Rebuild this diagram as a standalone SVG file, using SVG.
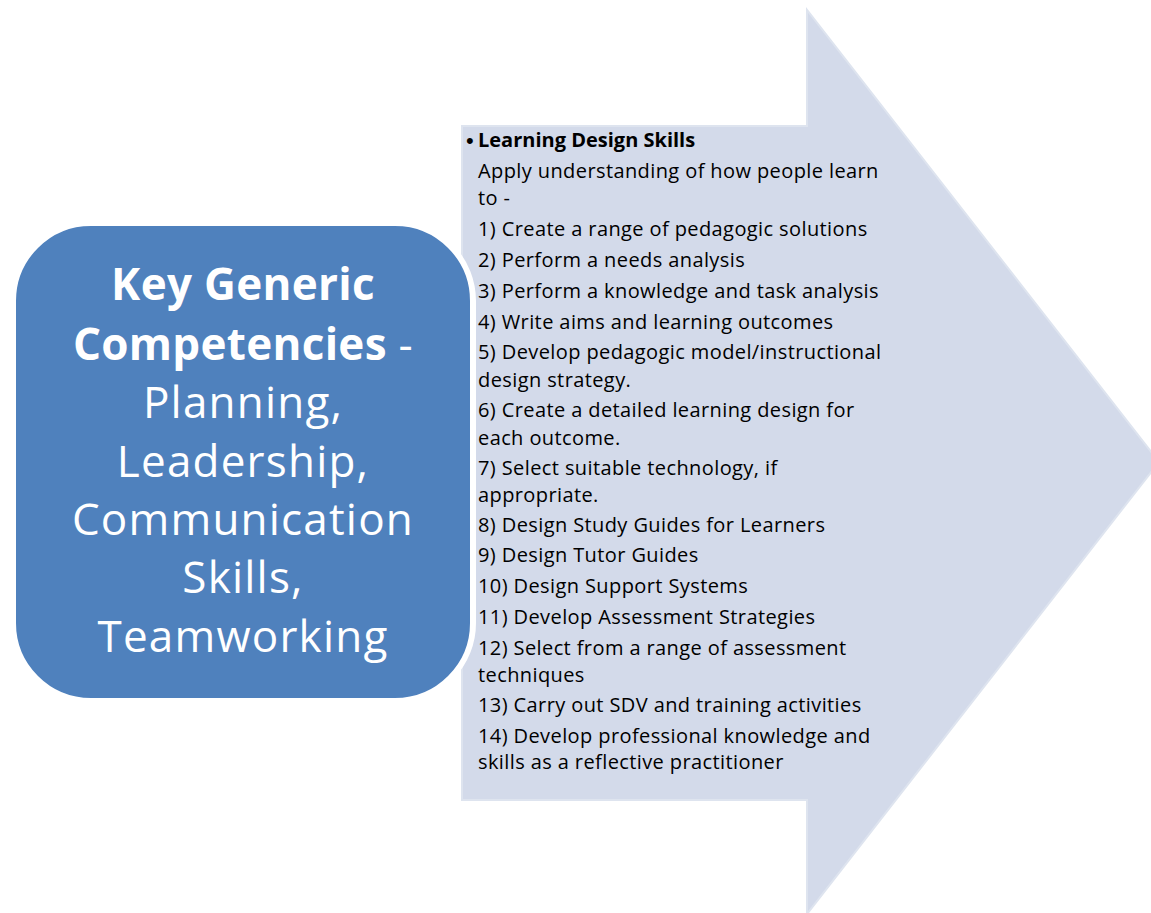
<svg xmlns="http://www.w3.org/2000/svg" width="1151" height="913" viewBox="0 0 1151 913">
<style>
.arrow{fill:#D3DAEA;stroke:#DEE4EF;stroke-width:2}
.box{fill:#4F81BD;stroke:#FFFFFF;stroke-width:6}
.big{font-family:"Open Sans","Liberation Sans",sans-serif;font-size:44px;letter-spacing:1.2px;fill:#FFFFFF;text-anchor:middle}
.b{font-weight:bold}
.bb{letter-spacing:0.3px}
.t{font-family:"Open Sans","Liberation Sans",sans-serif;font-size:20px;letter-spacing:0.4px;fill:#000000}
.bul{font-family:"Liberation Sans",sans-serif;font-size:22px;fill:#000000}
</style>
<rect width="1151" height="913" fill="#FFFFFF"/>
<g id="arrow-node">
<polygon class="arrow" points="462,126 807,126 807,10 1159,462 807,914 807,800 462,800"/>
<text class="bul" x="466" y="148">•</text>
<text class="t b" x="478" y="147" style="letter-spacing:0">Learning Design Skills</text>
<text class="t" x="478" y="178">Apply understanding of how people learn</text>
<text class="t" x="478" y="205">to -</text>
<text class="t" x="478" y="236">1) Create a range of pedagogic solutions</text>
<text class="t" x="478" y="267">2) Perform a needs analysis</text>
<text class="t" x="478" y="298">3) Perform a knowledge and task analysis</text>
<text class="t" x="478" y="329">4) Write aims and learning outcomes</text>
<text class="t" x="478" y="359">5) Develop pedagogic model/instructional</text>
<text class="t" x="478" y="387">design strategy.</text>
<text class="t" x="478" y="417">6) Create a detailed learning design for</text>
<text class="t" x="478" y="445">each outcome.</text>
<text class="t" x="478" y="475">7) Select suitable technology, if</text>
<text class="t" x="478" y="502">appropriate.</text>
<text class="t" x="478" y="532">8) Design Study Guides for Learners</text>
<text class="t" x="478" y="562">9) Design Tutor Guides</text>
<text class="t" x="478" y="593">10) Design Support Systems</text>
<text class="t" x="478" y="624">11) Develop Assessment Strategies</text>
<text class="t" x="478" y="655">12) Select from a range of assessment</text>
<text class="t" x="478" y="682">techniques</text>
<text class="t" x="478" y="712">13) Carry out SDV and training activities</text>
<text class="t" x="478" y="743">14) Develop professional knowledge and</text>
<text class="t" x="478" y="769">skills as a reflective practitioner</text>
</g>
<g id="key-node">
<rect class="box" x="13" y="223" width="460" height="478" rx="78" ry="78"/>
<text class="big b bb" x="243" y="300">Key Generic</text>
<text class="big bb" x="243" y="360"><tspan class="b">Competencies</tspan> -</text>
<text class="big" x="243" y="418">Planning,</text>
<text class="big" x="243" y="477">Leadership,</text>
<text class="big" x="243" y="535">Communication</text>
<text class="big" x="243" y="593">Skills,</text>
<text class="big" x="243" y="652">Teamworking</text>
</g>
<g id="connectors"></g>
</svg>
